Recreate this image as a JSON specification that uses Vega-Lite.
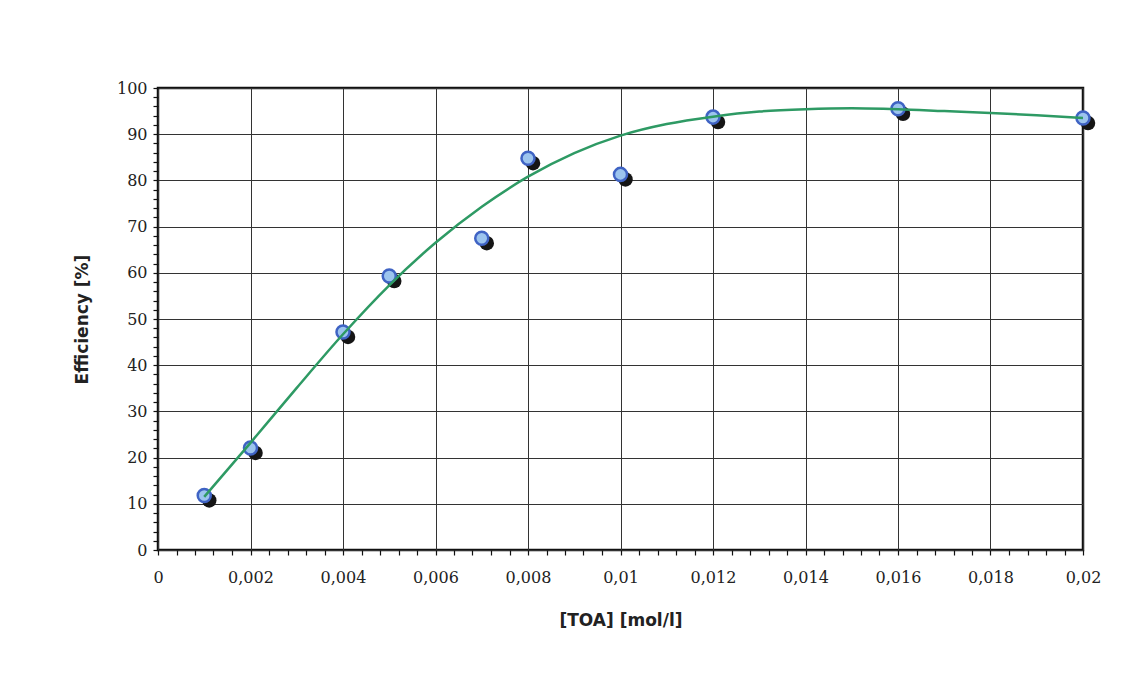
{
  "$schema": "https://vega.github.io/schema/vega-lite/v6.json",
  "width": 925,
  "height": 462,
  "autosize": "none",
  "padding": {"left": 158, "top": 88, "right": 52, "bottom": 134},
  "background": "white",
  "config": {
    "locale": {"number": {"decimal": ",", "thousands": ".", "grouping": [3], "currency": ["", " €"]}},
    "view": {"stroke": "#111", "strokeWidth": 2.5},
    "axis": {"domain": false}
  },
  "datasets": {
    "measured": [
      {"toa": 0.001, "eff": 11.8},
      {"toa": 0.002, "eff": 22.1},
      {"toa": 0.004, "eff": 47.2},
      {"toa": 0.005, "eff": 59.3},
      {"toa": 0.007, "eff": 67.5},
      {"toa": 0.008, "eff": 84.8},
      {"toa": 0.010, "eff": 81.3},
      {"toa": 0.012, "eff": 93.7},
      {"toa": 0.016, "eff": 95.5},
      {"toa": 0.020, "eff": 93.5}
    ],
    "trend": [
      {"toa": 0.001, "eff": 11.5},
      {"toa": 0.002, "eff": 23.2},
      {"toa": 0.003, "eff": 35.1},
      {"toa": 0.004, "eff": 46.7},
      {"toa": 0.005, "eff": 57.3},
      {"toa": 0.006, "eff": 66.5},
      {"toa": 0.007, "eff": 74.3},
      {"toa": 0.008, "eff": 80.8},
      {"toa": 0.009, "eff": 85.9},
      {"toa": 0.010, "eff": 89.7},
      {"toa": 0.011, "eff": 92.2},
      {"toa": 0.012, "eff": 93.8},
      {"toa": 0.013, "eff": 94.9},
      {"toa": 0.014, "eff": 95.4},
      {"toa": 0.015, "eff": 95.6},
      {"toa": 0.016, "eff": 95.4},
      {"toa": 0.017, "eff": 95.0},
      {"toa": 0.018, "eff": 94.6},
      {"toa": 0.019, "eff": 94.1},
      {"toa": 0.020, "eff": 93.5}
    ]
  },
  "encoding": {
    "x": {
      "field": "toa", "type": "quantitative",
      "scale": {"domain": [0, 0.02], "nice": false, "zero": false},
      "axis": {
        "title": "[TOA] [mol/l]",
        "titleFont": "DejaVu Sans", "titleFontSize": 17, "titleFontWeight": "bold", "titleColor": "#222",
        "titlePadding": 27,
        "values": [0,0.0004,0.0008,0.0012,0.0016,0.002,0.0024,0.0028,0.0032,0.0036,0.004,0.0044,0.0048,0.0052,0.0056,0.006,0.0064,0.0068,0.0072,0.0076,0.008,0.0084,0.0088,0.0092,0.0096,0.01,0.0104,0.0108,0.0112,0.0116,0.012,0.0124,0.0128,0.0132,0.0136,0.014,0.0144,0.0148,0.0152,0.0156,0.016,0.0164,0.0168,0.0172,0.0176,0.018,0.0184,0.0188,0.0192,0.0196,0.02],
        "labelExpr": "abs(datum.value*500 - round(datum.value*500)) < 0.001 ? format(datum.value, '~f') : ''",
        "labelFont": "DejaVu Serif", "labelFontSize": 16, "labelColor": "#222", "labelPadding": 14,
        "labelFlush": false, "labelOverlap": false,
        "tickColor": "#111", "tickSize": 5, "tickWidth": 1.2,
        "grid": true, "gridColor": "#333", "gridWidth": 1,
        "gridOpacity": {"condition": {"test": "abs(datum.value*500 - round(datum.value*500)) < 0.001", "value": 1}, "value": 0}
      }
    },
    "y": {
      "field": "eff", "type": "quantitative",
      "scale": {"domain": [0, 100], "nice": false},
      "axis": {
        "title": "Efficiency [%]",
        "titleFont": "DejaVu Sans", "titleFontSize": 17, "titleFontWeight": "bold", "titleColor": "#222",
        "titlePadding": 25,
        "values": [0,2,4,6,8,10,12,14,16,18,20,22,24,26,28,30,32,34,36,38,40,42,44,46,48,50,52,54,56,58,60,62,64,66,68,70,72,74,76,78,80,82,84,86,88,90,92,94,96,98,100],
        "labelExpr": "datum.value % 10 == 0 ? format(datum.value, 'd') : ''",
        "labelFont": "DejaVu Serif", "labelFontSize": 16, "labelColor": "#222", "labelPadding": 6,
        "labelOverlap": false, "labelFlush": false,
        "tickColor": "#111", "tickSize": 5, "tickWidth": 1.2,
        "grid": true, "gridColor": "#333", "gridWidth": 1,
        "gridOpacity": {"condition": {"test": "datum.value % 10 == 0", "value": 1}, "value": 0}
      }
    }
  },
  "layer": [
    {
      "data": {"name": "measured"},
      "mark": {"type": "point", "filled": true, "shape": "circle", "size": 210, "color": "#151515", "opacity": 1, "xOffset": 5, "yOffset": 5}
    },
    {
      "data": {"name": "measured"},
      "mark": {"type": "point", "filled": true, "shape": "circle", "size": 170, "fill": "#9cc4ee", "stroke": "#3f63c4", "strokeWidth": 2.5, "opacity": 1}
    },
    {
      "data": {"name": "trend"},
      "mark": {"type": "line", "color": "#2e9a64", "strokeWidth": 2.5, "interpolate": "monotone"}
    }
  ]
}
